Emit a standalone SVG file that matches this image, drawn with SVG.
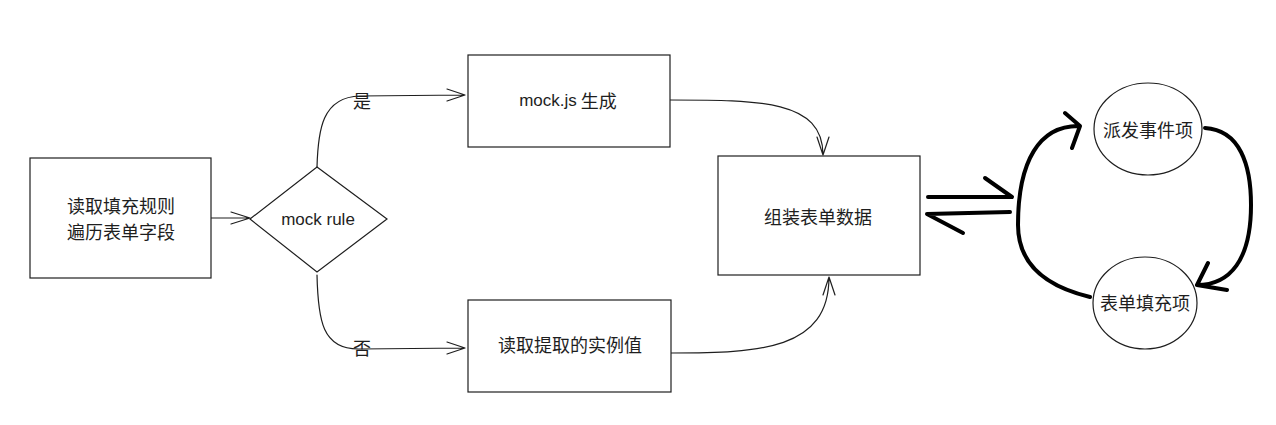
<svg xmlns="http://www.w3.org/2000/svg" width="1276" height="425" viewBox="0 0 1276 425">
<style>
.shape{fill:#fff;stroke:#1e1e1e;stroke-width:1.2}
.cn{font-family:"Noto Sans CJK SC","Liberation Sans",sans-serif;font-size:18px;fill:#1e1e1e;text-anchor:middle;dominant-baseline:central}
.en{font-family:"Liberation Sans","Noto Sans CJK SC",sans-serif;font-size:17px;fill:#1e1e1e;text-anchor:middle;dominant-baseline:central}
.thin{fill:none;stroke:#1e1e1e;stroke-width:1.2;stroke-linecap:round;stroke-linejoin:round}
.thick{fill:none;stroke:#000;stroke-width:4;stroke-linecap:round;stroke-linejoin:round}
</style>
<rect width="1276" height="425" fill="#fff"/>
<g id="connectors">
<path class="thin" d="M211 218 L250 218 M231 212 L250 218 L231 224"/>
<path class="thin" d="M317 167 C318 130 322 97 360 96 L465 95 M447 89 L465 95 L447 101"/>
<path class="thin" d="M317 275 C318 320 322 350 360 349 L465 348 M447 342 L465 348 L447 354"/>
<path class="thin" d="M670 100 C760 100 823 100 823 155 M817 137 L823 155 L829 137"/>
<path class="thin" d="M671 353 C760 353 829 350 829 277 M823 295 L829 277 L835 295"/>
<path class="thick" d="M928 197 L1012 197 M985 178 L1012 197"/>
<path class="thick" d="M1010 212 L927 214 L963 233"/>
<path class="thick" d="M1090 297 C1040 285 1018 260 1018 225 C1018 160 1040 126 1078 126 M1065 113 L1080 126 L1072 148"/>
<path class="thick" d="M1205 128 C1240 130 1251 165 1251 205 C1251 260 1230 285 1197 285 M1208 263 L1197 285 L1227 290"/>
</g>
<g id="n-read-rules">
<rect class="shape" x="30" y="158" width="181" height="120"/>
<text class="cn" x="121" y="205">读取填充规则</text>
<text class="cn" x="121" y="231">遍历表单字段</text>
</g>
<g id="n-mock-rule">
<polygon class="shape" points="317,167 387,219 317,272 250,219"/>
<text class="en" x="318" y="219">mock rule</text>
</g>
<g id="l-yes"><text class="cn" x="362" y="100" font-size="16">是</text></g>
<g id="l-no"><text class="cn" x="362" y="347" font-size="16">否</text></g>
<g id="n-mockjs">
<rect class="shape" x="468" y="55" width="202" height="92"/>
<text class="cn" x="568" y="100"><tspan font-family="Liberation Sans,sans-serif" font-size="17">mock.js</tspan> 生成</text>
</g>
<g id="n-read-instance">
<rect class="shape" x="468" y="300" width="203" height="92"/>
<text class="cn" x="570" y="344">读取提取的实例值</text>
</g>
<g id="n-assemble">
<rect class="shape" x="718" y="156" width="202" height="119"/>
<text class="cn" x="818" y="216">组装表单数据</text>
</g>
<g id="n-dispatch">
<ellipse class="shape" cx="1148" cy="129" rx="54" ry="46"/>
<text class="cn" x="1148" y="129">派发事件项</text>
</g>
<g id="n-fill">
<ellipse class="shape" cx="1145" cy="303" rx="52" ry="46"/>
<text class="cn" x="1145" y="302">表单填充项</text>
</g>
</svg>
